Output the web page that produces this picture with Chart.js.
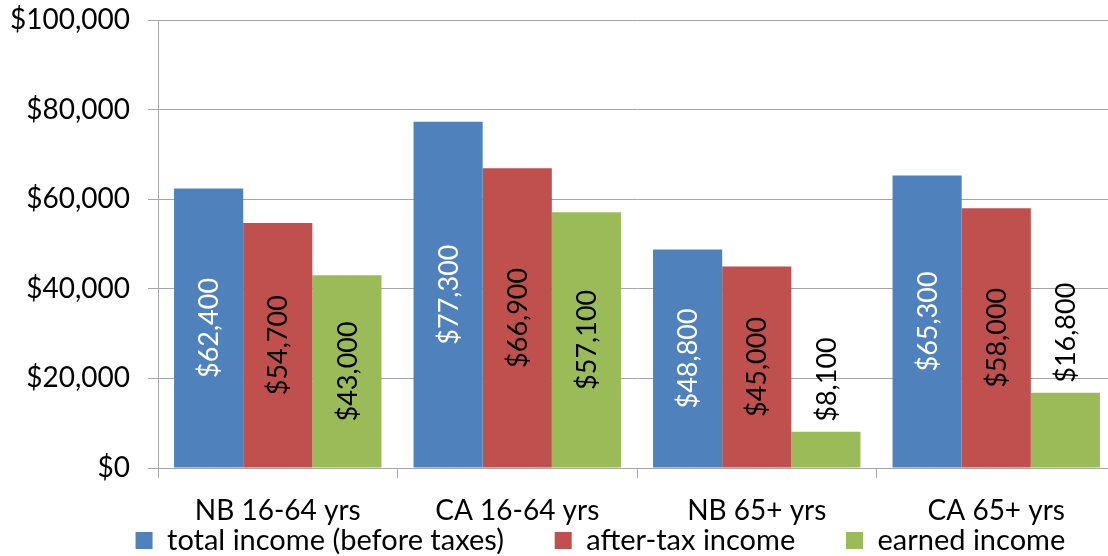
<!DOCTYPE html>
<html>
<head>
<meta charset="utf-8">
<script src="https://cdn.jsdelivr.net/npm/chart.js@4/dist/chart.umd.min.js"></script>
<style>
  html, body { margin: 0; padding: 0; background: #fff; overflow: hidden; }
  #wrap { width: 1116px; height: 556px; }
</style>
</head>
<body>
<div id="wrap"><canvas id="incomeChart"></canvas></div>
<script>
const categories = ['NB 16-64 yrs', 'CA 16-64 yrs', 'NB 65+ yrs', 'CA 65+ yrs'];
const totalIncome = [62400, 77300, 48800, 65300];
const afterTaxIncome = [54700, 66900, 45000, 58000];
const earnedIncome = [43000, 57100, 8100, 16800];
const seriesNames = ['total income (before taxes)', 'after-tax income', 'earned income'];

const FONT = 'Lato, "Open Sans", sans-serif';
const money = v => '$' + Number(v).toLocaleString('en-US');

// value labels, rotated, inside the bar when they fit, else just above it
const barLabels = {
    id: 'barLabels',
    afterDatasetsDraw(chart) {
        const ctx = chart.ctx;
        ctx.save();
        ctx.font = '27px ' + FONT;
        ctx.textBaseline = 'middle';
        ctx.textAlign = 'center';
        chart.data.datasets.forEach((ds, i) => {
            const meta = chart.getDatasetMeta(i);
            meta.data.forEach((bar, j) => {
                const txt = money(ds.data[j]);
                const w = ctx.measureText(txt).width;
                const h = bar.base - bar.y;
                let cy;
                if (w + 16 < h) {
                    cy = (bar.y + bar.base) / 2;
                    ctx.fillStyle = i === 0 ? '#fff' : '#000';
                } else {
                    cy = bar.y - 10 - w / 2;
                    ctx.fillStyle = '#000';
                }
                ctx.save();
                ctx.translate(bar.x, cy);
                ctx.rotate(-Math.PI / 2);
                ctx.fillText(txt, 0, 1);
                ctx.restore();
            });
        });
        ctx.restore();
    }
};

const gap = '\u2002\u2002\u2002\u2009\u2009';

const ctx = document.getElementById('incomeChart').getContext('2d');
const incomeChart = new Chart(ctx, {
    type: 'bar',
    data: {
        labels: categories,
        datasets: [
            { label: seriesNames[0], data: totalIncome, backgroundColor: '#4F81BD' },
            { label: seriesNames[1], data: afterTaxIncome, backgroundColor: '#C0504D' },
            { label: seriesNames[2], data: earnedIncome, backgroundColor: '#9BBB59' }
        ]
    },
    options: {
        responsive: true,
        maintainAspectRatio: false,
        animation: false,
        // legend box has empty space at its foot, let it run past the bottom edge
        layout: { padding: { top: 20, left: 0, right: 0, bottom: -9 } },
        datasets: {
            bar: { categoryPercentage: 0.866, barPercentage: 1.0 }
        },
        plugins: {
            tooltip: { enabled: false },
            legend: {
                position: 'bottom',
                align: 'end',
                labels: {
                    color: '#000',
                    font: { family: FONT, size: 29, lineHeight: 1 },
                    boxWidth: 17,
                    boxHeight: 17,
                    padding: 0,
                    // wider gaps between entries, and a right margin after the last one
                    generateLabels(chart) {
                        const items = Chart.defaults.plugins.legend.labels.generateLabels(chart);
                        items.forEach(it => { it.text += gap; });
                        return items;
                    }
                }
            }
        },
        scales: {
            x: {
                grid: { drawOnChartArea: false, tickLength: 10, color: '#a6a6a6' },
                border: { color: '#a6a6a6' },
                ticks: { color: '#000', font: { family: FONT, size: 28 }, padding: 16 },
                afterFit(scale) { scale.height = 58; }
            },
            y: {
                min: 0,
                max: 100000,
                ticks: {
                    stepSize: 20000,
                    color: '#000',
                    font: { family: FONT, size: 28 },
                    padding: 18,
                    callback: v => money(v)
                },
                grid: { color: '#a6a6a6', tickLength: 10 },
                border: { color: '#a6a6a6' },
                afterFit(scale) {
                    scale.width = 158;
                    scale.paddingTop = 0;
                    scale.paddingBottom = 0;
                }
            }
        }
    },
    plugins: [barLabels]
});
</script>
</body>
</html>
